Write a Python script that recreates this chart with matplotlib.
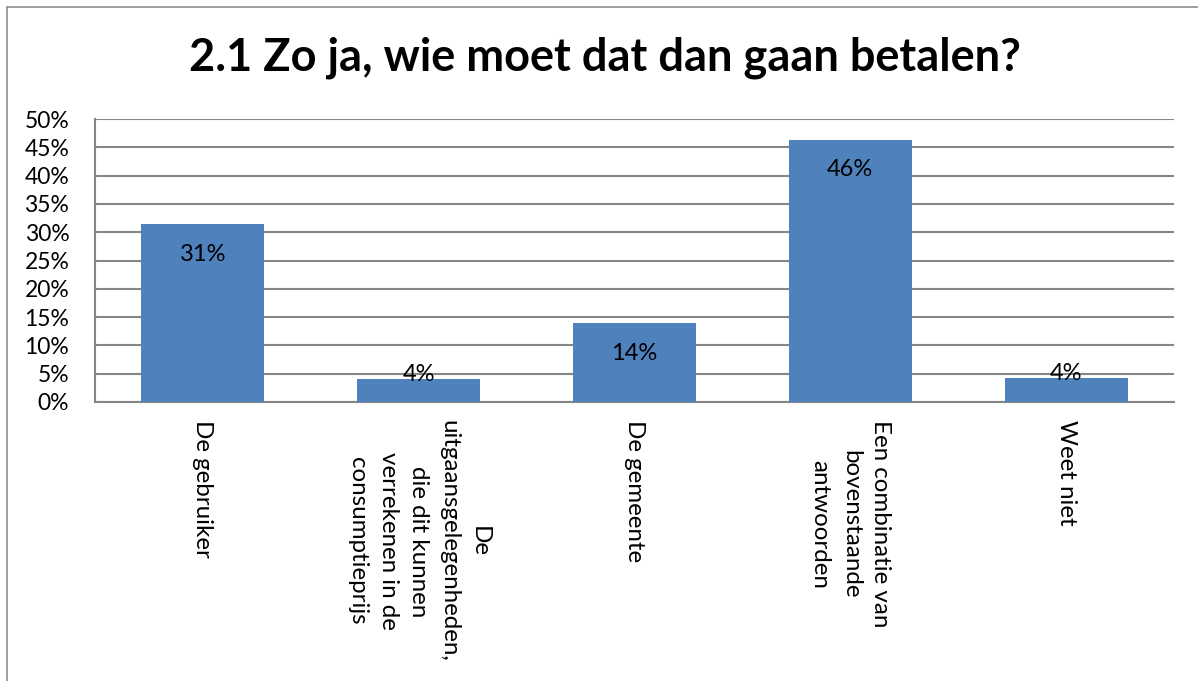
import matplotlib
matplotlib.use('Agg')
import matplotlib.pyplot as plt
from matplotlib.patches import Rectangle

plt.rcParams['font.family'] = ['Lato', 'DejaVu Sans']

categories = ['De gebruiker',
              'De\nuitgaansgelegenheden,\ndie dit kunnen\nverrekenen in de\nconsumptieprijs',
              'De gemeente',
              'Een combinatie van\nbovenstaande\nantwoorden',
              'Weet niet']
values = [31.4, 4.0, 13.9, 46.3, 4.3]
yticks = [0, 5, 10, 15, 20, 25, 30, 35, 40, 45, 50]
title = '2.1 Zo ja, wie moet dat dan gaan betalen?'

bar_color = '#4F81BD'
grid_color = '#868686'

fig = plt.figure(figsize=(11.98, 6.81), dpi=100)
ax = fig.add_axes([95 / 1198, 1 - 402 / 681, (1174 - 95) / 1198, (402 - 119) / 681])

x = list(range(len(values)))
ax.bar(x, values, width=0.57, color=bar_color, zorder=3)
ax.set_xlim(-0.5, len(values) - 0.5)
ax.set_ylim(0, 50)
ax.set_yticks(yticks)
ax.set_yticklabels(['%d%%' % t for t in yticks], fontsize=16.5)
ax.set_xticks([])
ax.tick_params(axis='y', length=0, pad=18.5)
ax.grid(axis='y', color=grid_color, linewidth=1.5, zorder=0)
for s in ['top', 'right']:
    ax.spines[s].set_visible(False)
for s in ['left', 'bottom']:
    ax.spines[s].set_color(grid_color)
    ax.spines[s].set_linewidth(1.5)

# data labels
for xi, v in zip(x, values):
    ly = v - 5.3 if v > 10 else v + 0.8
    ax.text(xi, ly, '%d%%' % round(v), ha='center', va='center', fontsize=17, zorder=4)

# category labels, rotated
for xi, c in zip(x, categories):
    ax.text((xi + 0.5) / len(values), -0.065, c, transform=ax.transAxes,
            rotation=270, ha='center', va='top', multialignment='center',
            fontsize=17.4, linespacing=1.55)

fig.text(0.505, 1 - 58 / 681, title, ha='center', va='center',
         fontsize=32.5, fontweight='bold')

# chart border
fig.patches.append(Rectangle((7 / 1198, -0.05), 1.2, 1 - 7 / 681 + 0.05,
                             transform=fig.transFigure, fill=False,
                             edgecolor='#8c8c8c', linewidth=1.2))

fig.savefig('out.png', dpi=100)
